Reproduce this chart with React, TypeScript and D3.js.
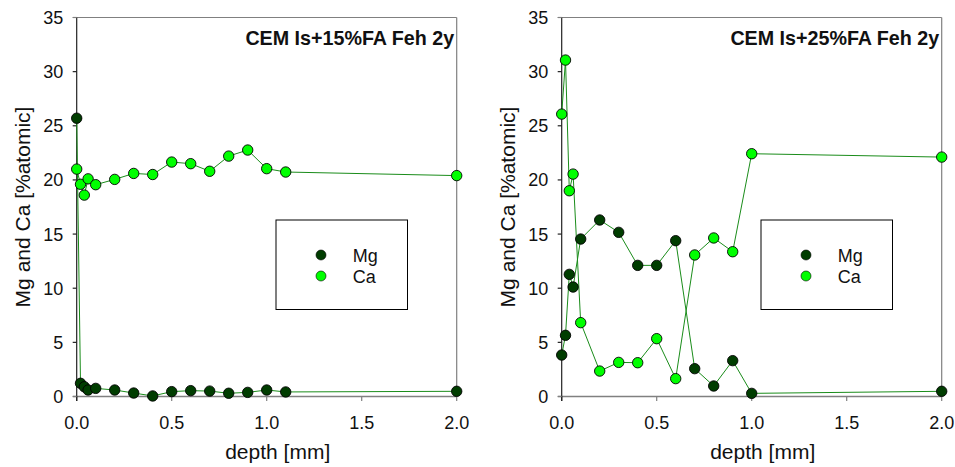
import React from "react";
import * as d3 from "d3";

const depthA = [0, 0.02, 0.04, 0.06, 0.1, 0.2, 0.3, 0.4, 0.5, 0.6, 0.7, 0.8, 0.9, 1.0, 1.1, 2.0];
const mgA = [25.7, 1.22, 0.9, 0.6, 0.75, 0.6, 0.32, 0.05, 0.45, 0.54, 0.5, 0.3, 0.38, 0.6, 0.42, 0.48];
const caA = [21.0, 19.6, 18.6, 20.1, 19.56, 20.05, 20.6, 20.5, 21.65, 21.5, 20.8, 22.2, 22.76, 21.04, 20.73, 20.4];

const depthB = [0, 0.02, 0.04, 0.06, 0.1, 0.2, 0.3, 0.4, 0.5, 0.6, 0.7, 0.8, 0.9, 1.0, 2.0];
const mgB = [3.83, 5.65, 11.28, 10.11, 14.54, 16.3, 15.16, 12.11, 12.11, 14.39, 2.57, 0.97, 3.31, 0.29, 0.48];
const caB = [26.08, 31.07, 19.0, 20.54, 6.82, 2.35, 3.15, 3.12, 5.34, 1.65, 13.07, 14.64, 13.37, 22.42, 22.11];

const xTicks = [0, 0.5, 1.0, 1.5, 2.0];
const yTicks = [0, 5, 10, 15, 20, 25, 30, 35];
const seriesNames = ["Mg", "Ca"];
const titles = ["CEM Is+15%FA Feh 2y", "CEM Is+25%FA Feh 2y"];

const FONT = "'Liberation Sans', Arial, Helvetica, sans-serif";
const MG_FILL = "#003d00";
const CA_FILL = "#00ff00";
const LINE = "#1a8c1a";
const GRAY = "#808080";
const DARK = "#222222";

type PanelProps = { ox: number; title: string; depth: number[]; mg: number[]; ca: number[] };

function Panel({ ox, title, depth, mg, ca }: PanelProps) {
  const x = d3.scaleLinear().domain([0, 2]).range([ox + 76.7, ox + 456.7]);
  const y = d3.scaleLinear().domain([0, 35]).range([396.5, 17.5]);
  const line = d3
    .line<number>()
    .x((_, i) => x(depth[i]))
    .y((v) => y(v));
  const [x0, x1] = x.range();
  const [y0, y1] = y.range();
  const cx = (x0 + x1) / 2;
  const cy = (y0 + y1) / 2;
  return (
    <g fontFamily={FONT}>
      {/* frame */}
      <line x1={x0 - 4} x2={x1} y1={y1} y2={y1} stroke={GRAY} strokeWidth={1.2} />
      <line x1={x1} x2={x1} y1={y1} y2={y0} stroke={GRAY} strokeWidth={1.2} />
      <line x1={x0 - 4} x2={x1} y1={y0} y2={y0} stroke={GRAY} strokeWidth={1.5} />
      <line x1={x0} x2={x0} y1={y1} y2={y0 + 4.5} stroke={DARK} strokeWidth={1.2} />
      {xTicks.map((t) => (
        <g key={"x" + t}>
          <line x1={x(t)} x2={x(t)} y1={y0} y2={y0 + 4.5} stroke={t === 0 ? DARK : GRAY} strokeWidth={1.2} />
          <text x={x(t)} y={429} textAnchor="middle" fontSize={18} fill="#111">
            {d3.format(".1f")(t)}
          </text>
        </g>
      ))}
      {yTicks.map((t) => (
        <g key={"y" + t}>
          <line x1={x0 - 4} x2={x0} y1={y(t)} y2={y(t)} stroke={t === 0 || t === 35 ? GRAY : DARK} strokeWidth={1.2} />
          <text x={x0 - 13.4} y={y(t)} dy="0.36em" textAnchor="end" fontSize={18} fill="#111">
            {t}
          </text>
        </g>
      ))}
      <text x={cx + 11} y={459} textAnchor="middle" fontSize={21} fill="#111">
        depth [mm]
      </text>
      <text
        transform={`translate(${x0 - 47},${cy}) rotate(-90)`}
        textAnchor="middle"
        fontSize={21}
        fill="#111"
      >
        Mg and Ca [%atomic]
      </text>
      <text x={x1 - 2.5} y={45} textAnchor="end" fontSize={19.7} fontWeight="bold" fill="#111">
        {title}
      </text>
      {/* lines */}
      <path d={line(mg) || ""} fill="none" stroke={LINE} strokeWidth={1} />
      <path d={line(ca) || ""} fill="none" stroke={LINE} strokeWidth={1} />
      {/* markers */}
      {mg.map((v, i) => (
        <circle key={"m" + i} cx={x(depth[i])} cy={y(v)} r={5.2} fill={MG_FILL} stroke="#000" strokeWidth={0.9} />
      ))}
      {ca.map((v, i) => (
        <circle key={"c" + i} cx={x(depth[i])} cy={y(v)} r={5.2} fill={CA_FILL} stroke="#000" strokeWidth={0.9} />
      ))}
      {/* legend */}
      <rect x={ox + 276} y={220} width={131.5} height={89.5} fill="#fff" stroke="#000" strokeWidth={1} />
      {seriesNames.map((s, i) => (
        <g key={s}>
          <circle cx={ox + 321} cy={255 + i * 21} r={5} fill={i === 0 ? MG_FILL : CA_FILL} stroke="#000" strokeWidth={0.6} />
          <text x={ox + 352.7} y={261.5 + i * 21} fontSize={18} fill="#111">
            {s}
          </text>
        </g>
      ))}
    </g>
  );
}

export default function App() {
  return (
    <svg
      width={955}
      height={467}
      style={{ position: "absolute", left: 0, top: 0, display: "block", background: "#fff" }}
    >
      <rect width={955} height={467} fill="#fff" />
      <Panel ox={0} title={titles[0]} depth={depthA} mg={mgA} ca={caA} />
      <Panel ox={485} title={titles[1]} depth={depthB} mg={mgB} ca={caB} />
    </svg>
  );
}
